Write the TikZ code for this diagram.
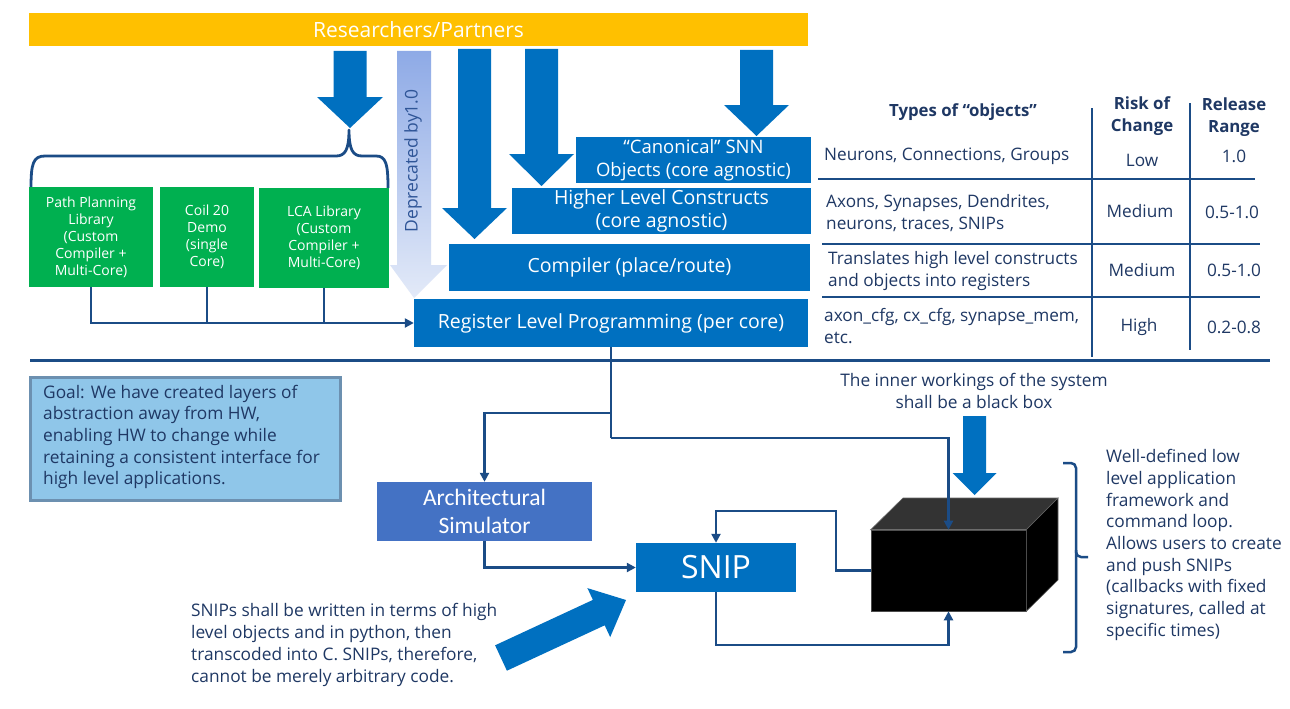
\documentclass[tikz,border=0pt]{standalone}
\usepackage{fontspec}
\setmainfont{Open Sans}
\newfontfamily\calib{Carlito}
\usetikzlibrary{arrows.meta}
\definecolor{ylw}{HTML}{FFC000}
\definecolor{iblue}{HTML}{0070C0}
\definecolor{igreen}{HTML}{00B050}
\definecolor{dline}{HTML}{1B4C86}
\definecolor{dtext}{HTML}{1F3864}
\definecolor{archc}{HTML}{4472C4}
\definecolor{goalf}{HTML}{8FC6E9}
\definecolor{goalb}{HTML}{6C90B0}
\definecolor{deptop}{HTML}{8EAAE6}
\definecolor{depbot}{HTML}{E3EAF8}
\definecolor{deptext}{HTML}{2F5597}
\definecolor{topface}{HTML}{333333}
\newcommand{\dnarrow}[6]{\fill[iblue] ({#1-#5},#2) -- ({#1+#5},#2) -- ({#1+#5},#3) -- ({#1+#6},#3) -- (#1,#4) -- ({#1-#6},#3) -- ({#1-#5},#3) -- cycle;}
\tikzset{
  box/.style={rectangle, inner sep=0pt, align=center, text=white},
  bluebox/.style={box, fill=iblue, font=\fontsize{19.5}{23}\selectfont},
  greenbox/.style={box, fill=igreen, font=\fontsize{14}{17}\selectfont},
  conn/.style={draw=dline, line width=2.5pt, -{Triangle[length=9pt,width=9pt]}},
  plain/.style={draw=dline, line width=2.5pt},
  tabline/.style={draw=dline, line width=1.5pt},
  ttext/.style={text=dtext, font=\fontsize{17.2}{22}\selectfont, inner sep=0pt},
  thead/.style={text=dtext, font=\bfseries\fontsize{16.8}{22}\selectfont, inner sep=0pt, align=center},
  note/.style={text=dtext, font=\fontsize{17.3}{21.7}\selectfont, inner sep=0pt, align=left},
}
\begin{document}
\begin{tikzpicture}[x=1pt,y=-1pt]
\useasboundingbox (0,0) rectangle (1290,709);
\fill[white] (0,0) rectangle (1290,709);

% top bar
\node[box, fill=ylw, minimum width=779pt, minimum height=33pt, font=\fontsize{21}{24}\selectfont] (res) at (418.5,29.5) {Researchers/Partners};

% deprecated arrow
\shade[top color=deptop, bottom color=depbot] (397,51) -- (431,51) -- (431,265) -- (447,265) -- (414,298) -- (390,265) -- (397,265) -- cycle;
\node[rotate=90, text=deptext, font=\fontsize{17.5}{20}\selectfont, inner sep=0pt] (dep) at (413,161) {Deprecated by1.0};

% blue block arrows
\dnarrow{350}{51}{97}{128}{16.5}{33}
\dnarrow{474.5}{49}{208}{239}{16.5}{32.5}
\dnarrow{541.5}{49}{154}{186}{16.5}{32.5}
\dnarrow{756.5}{50}{105}{136}{16.5}{32.5}

% brace
\draw[dline, line width=2.8pt, line join=round] (31,188) .. controls (31,164) and (33,156) .. (45,156) -- (336,156) .. controls (345,156) and (349,150) .. (349,130) .. controls (349,150) and (353,156) .. (362,156) -- (376,156) .. controls (386,156) and (388,164) .. (388,188);

% green boxes
\node[greenbox, minimum width=124pt, minimum height=100pt] (pp) at (91,237) {Path Planning\\Library\\(Custom\\Compiler +\\Multi-Core)};
\node[greenbox, minimum width=94pt, minimum height=100pt] (coil) at (207,237) {Coil 20\\Demo\\(single\\Core)};
\node[greenbox, minimum width=130pt, minimum height=100pt] (lca) at (324,237.5) {LCA Library\\(Custom\\Compiler +\\Multi-Core)};

% blue layer boxes
\node[bluebox, minimum width=235pt, minimum height=46pt, font=\fontsize{18.5}{23}\selectfont] (canon) at (693.5,160) {“Canonical” SNN\\Objects (core agnostic)};
\node[bluebox, minimum width=299pt, minimum height=46pt] (hlc) at (661.5,211) {Higher Level Constructs\\(core agnostic)};
\node[bluebox, minimum width=361pt, minimum height=47pt] (comp) at (629.5,267.5) {Compiler (place/route)};
\node[bluebox, minimum width=394pt, minimum height=48pt] (reg) at (611,323) {Register Level Programming (per core)};

% green connectors
\draw[conn] (pp.south) |- (reg.west);
\draw[plain] (coil.south) -- (coil.south |- reg.west);
\draw[plain] (lca.south) -- (lca.south |- reg.west);

% table
\node[thead] (th1) at (963,112) {Types of “objects”};
\node[thead] (th2) at (1142,116) {Risk of\\Change};
\node[thead] (th3) at (1234,117) {Release\\Range};
\node[ttext, anchor=west] (t11) at (824,156) {Neurons, Connections, Groups};
\node[ttext] (t12) at (1142,160) {Low};
\node[ttext] (t13) at (1234,156) {1.0};
\node[ttext, anchor=west, align=left] (t21) at (826,213) {Axons, Synapses, Dendrites,\\neurons, traces, SNIPs};
\node[ttext] (t22) at (1140,211) {Medium};
\node[ttext] (t23) at (1232,212) {0.5-1.0};
\node[ttext, anchor=west, align=left] (t31) at (828,271) {Translates high level constructs\\and objects into registers};
\node[ttext] (t32) at (1142,270) {Medium};
\node[ttext] (t33) at (1234,270) {0.5-1.0};
\node[ttext, anchor=west, align=left] (t41) at (824,326.5) {axon\_cfg, cx\_cfg, synapse\_mem,\\etc.};
\node[ttext] (t42) at (1139,327) {High};
\node[ttext] (t43) at (1234,327) {0.2-0.8};
\draw[tabline] (1092,108) -- (1092,357);
\draw[tabline] (1190,103) -- (1190,350);
\draw[tabline] (818,179) -- (1255,179);
\draw[tabline] (822,244) -- (1260,244);
\draw[tabline] (822,297) -- (1260,297);

% divider
\draw[dline, line width=3pt] (30,360) -- (1270,360);

% goal box
\node[draw=goalb, line width=3pt, fill=goalf, minimum width=310pt, minimum height=123pt, inner sep=0pt] (goal) at (185,438.5) {};
\node[note, anchor=west] (goaltxt) at (43,437) {Goal: We have created layers of\\abstraction away from HW,\\enabling HW to change while\\retaining a consistent interface for\\high level applications.};

% architectural simulator and snip
\node[box, fill=archc, minimum width=215pt, minimum height=59pt, font=\calib\fontsize{23.5}{28}\selectfont] (arch) at (484.5,511.5) {Architectural\\Simulator};
\node[box, fill=iblue, minimum width=160pt, minimum height=49pt, font=\fontsize{32}{34}\selectfont] (snip) at (716,567.5) {SNIP};

% black box
\node[rectangle, fill=black, draw=black!70, line width=0.6pt, minimum width=155pt, minimum height=81pt, inner sep=0pt] (bb) at (948.5,570.5) {};
\filldraw[fill=topface, draw=black!60, line width=0.6pt] (bb.north west) -- (903,498) -- (1058,498) -- (bb.north east) -- cycle;
\filldraw[fill=black, draw=black!60, line width=0.6pt] (bb.north east) -- (1058,498) -- (1058,580) -- (bb.south east) -- cycle;

% inner workings text and arrow
\node[note, align=center] (inner) at (974,391) {The inner workings of the system\\shall be a black box};
\dnarrow{974.5}{416}{473}{495}{11.5}{22}

% connectors from register
\coordinate (r1) at (611,438);
\coordinate (r2) at (611,413);
\draw[plain] (reg.south) -- (r1);
\draw[conn] (r1) -| (bb.north);
\draw[conn] (r2) -| (arch.north);
\draw[conn] (arch.south) |- (snip.west);
\coordinate (lp1) at (836,511);
\draw[conn] (bb.west) -| (lp1) -| (snip.north);
\coordinate (lp2) at (716,645);
\draw[conn] (snip.south) -- (lp2) -| (bb.south);

% diagonal arrow
\fill[iblue] (506.9,670.7) -- (495.1,645.3) -- (592.9,599.9) -- (587.4,588.1) -- (626,600) -- (610.2,637.1) -- (604.7,625.3) -- cycle;
\node[note, anchor=west] (sniptxt) at (191,645) {SNIPs shall be written in terms of high\\level objects and in python, then\\transcoded into C. SNIPs, therefore,\\cannot be merely arbitrary code.};

% right bracket
\draw[dline, line width=2.5pt, rounded corners=5pt] (1063,463) -- (1076,463) -- (1076,557) -- (1088,557);
\draw[dline, line width=2.5pt, rounded corners=5pt] (1076,550) -- (1076,652) -- (1063,652);
\node[note, anchor=west] (right) at (1106,545) {Well-defined low\\level application\\framework and\\command loop.\\Allows users to create\\and push SNIPs\\(callbacks with fixed\\signatures, called at\\specific times)};
\end{tikzpicture}
\end{document}
